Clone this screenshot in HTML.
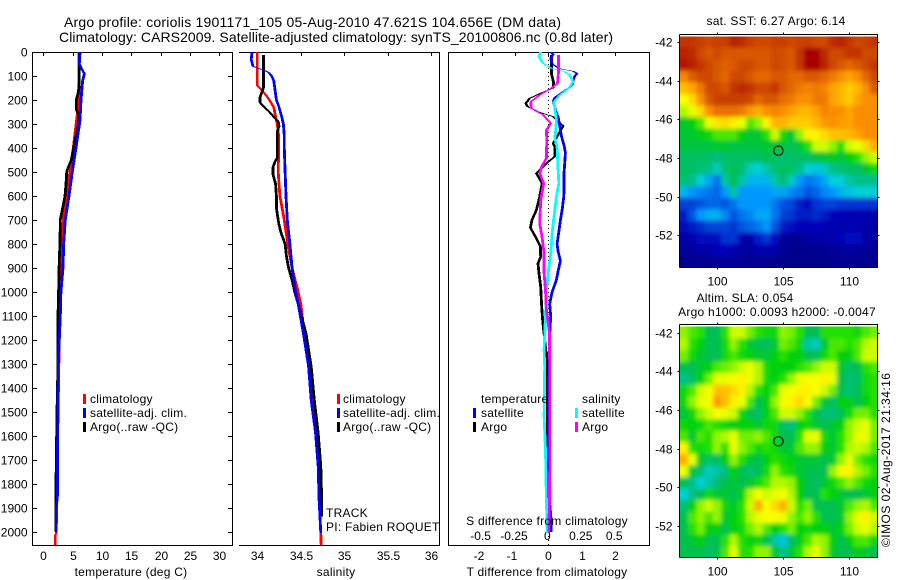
<!DOCTYPE html>
<html>
<head>
<meta charset="utf-8">
<title>Argo profile</title>
<style>
html,body{margin:0;padding:0;background:#fff;}
svg{display:block;}
text{font-family:"Liberation Sans",sans-serif;font-size:12px;fill:#000;letter-spacing:.25px;}
text.tick,text.exact{letter-spacing:0;}
</style>
</head>
<body>
<svg id="chart" width="900" height="580" viewBox="0 0 900 580" xmlns="http://www.w3.org/2000/svg">
<defs>
<clipPath id="clip-sst"><rect x="679.5" y="36.5" width="198" height="230.5"/></clipPath>
<clipPath id="clip-sla"><rect x="679.5" y="326.5" width="198" height="230.5"/></clipPath>
<filter id="soft" x="-5%" y="-5%" width="110%" height="110%"><feGaussianBlur stdDeviation="2.2"/></filter>
</defs>
<g id="maps"></g>
<g id="frames"></g>
<g id="series"></g>

<text class="exact" x="64" y="27" style="font-size:14px" textLength="497">Argo profile: coriolis 1901171_105 05-Aug-2010 47.621S 104.656E (DM data)</text>
<text class="exact" x="59" y="42" style="font-size:14px" textLength="554">Climatology: CARS2009. Satellite-adjusted climatology: synTS_20100806.nc (0.8d later)</text>

<text x="131" y="576" text-anchor="middle">temperature (deg C)</text>
<text x="336" y="576" text-anchor="middle">salinity</text>
<text x="547" y="576" text-anchor="middle">T difference from climatology</text>
<text x="547" y="525" text-anchor="middle">S difference from climatology</text>

<g>
<rect x="83" y="394" width="3" height="10" fill="#f00"/>
<rect x="83" y="408" width="3" height="10" fill="#00f"/>
<rect x="83" y="422" width="3" height="10" fill="#000"/>
<text x="90" y="403">climatology</text>
<text x="90" y="417">satellite-adj. clim.</text>
<text x="90" y="431">Argo(..raw -QC)</text>
</g>
<g>
<rect x="337" y="394" width="3" height="10" fill="#f00"/>
<rect x="337" y="408" width="3" height="10" fill="#00f"/>
<rect x="337" y="422" width="3" height="10" fill="#000"/>
<text x="343" y="403">climatology</text>
<text x="343" y="417">satellite-adj. clim.</text>
<text x="343" y="431">Argo(..raw -QC)</text>
</g>
<g>
<text x="481" y="403">temperature</text>
<rect x="473" y="408" width="3" height="10" fill="#00f"/>
<rect x="473" y="422" width="3" height="10" fill="#000"/>
<text x="481" y="417">satellite</text>
<text x="481" y="431">Argo</text>
<text x="582" y="403">salinity</text>
<rect x="575" y="408" width="3" height="10" fill="#0ff"/>
<rect x="575" y="422" width="3" height="10" fill="#f0f"/>
<text x="582" y="417">satellite</text>
<text x="582" y="431">Argo</text>
</g>

<text x="326" y="517">TRACK</text>
<text x="326" y="531">PI: Fabien ROQUET</text>

<text x="776" y="25" text-anchor="middle">sat. SST: 6.27 Argo: 6.14</text>
<text x="745" y="302" text-anchor="middle">Altim. SLA: 0.054</text>
<text x="777" y="316" text-anchor="middle">Argo h1000: 0.0093 h2000: -0.0047</text>
<text class="exact" transform="translate(890,547) rotate(-90)" textLength="174">©IMOS 02-Aug-2017 21:34:16</text>
</svg>

<script>
// ---- depth axis ----
const depthTicks = [0,100,200,300,400,500,600,700,800,900,1000,1100,1200,1300,1400,1500,1600,1700,1800,1900,2000];

// ---- temperature panel ----
const tempTicks = [0,5,10,15,20,25,30];
const climTempDepth = [0,100,200,283,400,500,600,700,800,900,1000,1100,1500,2010,2011,2054];
const climTemp = [6.08,6.08,6.08,5.68,5.11,4.55,3.92,3.41,3.18,3.13,2.95,2.8,2.5,2.2,2.05,2.05];
const satTempDepth = [0,50,70,90,120,200,285,400,500,600,700,800,900,1000,1100,1200,1300,1500,1700,1850,1900,2000];
const satTemp = [6.25,6.14,6.53,7.0,6.7,6.42,6.25,5.57,4.94,4.37,3.75,3.47,3.35,3.0,2.9,2.73,2.56,2.5,2.4,2.4,2.2,2.2];
const argoTempDepth = [0,100,150,180,200,240,260,300,350,400,450,480,500,550,600,650,700,800,860,1000,1100,1300,1500,1800,2000];
const argoTemp = [6.14,6.14,6.08,5.85,5.6,5.6,6.02,6.02,5.57,5.17,4.77,4.26,3.98,3.86,3.7,3.3,2.9,2.84,2.73,2.6,2.5,2.5,2.33,2.16,2.15];

// ---- salinity panel ----
const salTicks = [34,34.5,35,35.5,36];
const climSalDepth = [0,50,100,140,155,180,200,230,270,300,350,400,500,600,700,800,900,1000,1050,1172,1311,1450,1589,1727,1866,2005,2054];
const climSal = [34,34,34,34,34.04,34.1,34.14,34.19,34.21,34.23,34.245,34.245,34.24,34.26,34.31,34.35,34.4,34.47,34.5,34.54,34.6,34.63,34.67,34.7,34.71,34.73,34.735];
const satSalDepth = [0,30,60,75,85,100,120,200,230,270,300,350,400,500,600,700,800,900,1000,1050,1172,1311,1450,1589,1727,1866,2005];
const satSal = [33.94,33.93,33.95,34.07,34.13,34.165,34.19,34.22,34.25,34.28,34.3,34.31,34.31,34.32,34.33,34.345,34.375,34.4,34.44,34.47,34.53,34.59,34.62,34.67,34.7,34.71,34.73];
const argoSalDepth = [12,100,150,170,190,210,230,250,275,290,310,330,370,420,440,460,480,510,550,600,650,700,720,750,800,850,900,950,1000,1050,1172,1311,1450,1589,1727,1866,1936];
const argoSal = [34.07,34.07,34.07,34.05,34.03,34.03,34.08,34.14,34.2,34.24,34.25,34.23,34.23,34.23,34.23,34.2,34.18,34.18,34.21,34.22,34.22,34.24,34.25,34.27,34.32,34.335,34.36,34.4,34.43,34.47,34.56,34.62,34.655,34.7,34.73,34.74,34.74];

// ---- difference panel ----
const tDiffTicks = [-2,-1,0,1,2];
const sDiffTicks = [-0.5,-0.25,0,0.25,0.5];
const sDiffTickLabels = ['-0.5','-0.25','0','0.25','0.5'];
const satTDiffDepth = [0,10,25,50,70,80,90,100,120,135,150,170,190,205,240,270,310,350,390,420,500,550,600,650,700,750,800,830,870,900,950,1000,1050,1100,1200,1400,1700,1850,1950,2000];
const satTDiff = [.07,.14,.07,.11,.34,.74,.86,.79,.74,.72,.61,.39,.19,.15,.21,.29,.34,.39,.47,.51,.47,.47,.46,.42,.36,.31,.26,.29,.36,.31,.24,.11,.04,.07,.03,0,0,.02,.08,.08];
const argoTDiffDepth = [12,89,130,150,170,193,214,228,249,269,308,346,381,394,436,464,506,547,603,658,700,732,769,811,853,881,922,978,1061,1120,1240,1310,2000];
const argoTDiff = [.09,.09,.16,.14,-.2,-.56,-.68,-.62,-.31,.14,.44,.29,.14,.19,.19,-.06,-.36,-.19,-.26,-.36,-.49,-.54,-.39,-.24,-.23,-.31,-.28,-.23,-.2,-.17,-.08,-.03,-.03];
const satSDiffDepth = [0,19,47,68,82,96,124,151,179,207,235,283,325,360,394,478,547,603,686,756,839,922,992,1075,1240,1311,1519,1658,1866,2005];
const satSDiff = [-.058,-.072,-.04,.022,.122,.16,.185,.152,.085,.042,.048,.06,.055,.048,.065,.072,.078,.06,.042,.028,.018,-.002,-.015,-.02,-.032,-.028,-.032,-.022,-.015,-.008];
const argoSDiffDepth = [12,89,130,151,179,207,235,262,297,325,367,443,478,506,547,617,714,769,839,922,992,1075,1172,1311,1727,1866,2005];
const argoSDiff = [.075,.075,.068,.022,-.065,-.132,-.128,-.04,.018,-.015,-.012,-.015,-.052,-.065,-.035,-.058,-.065,-.048,-.032,-.032,-.022,-.015,.008,.01,.01,.008,.002];

// ---- maps ----
const lonTicks = [100,105,110];
const latTicks = [-42,-44,-46,-48,-50,-52];
const argoLon = 104.656;
const argoLat = -47.621;
const sstGrid = [
[95,95,94,93,94,94,97,96,94,93,93,94,94,93,94,94,93,93,96,97,95,93,94,95],
[97,96,93,91,93,91,91,91,91,91,91,93,92,91,95,100,100,96,93,93,95,95,93,93],
[98,97,95,93,91,90,91,93,93,91,91,93,92,91,95,100,100,97,93,91,89,91,93,95],
[86,90,93,93,91,89,93,93,91,89,89,91,91,89,89,91,91,89,87,85,83,85,89,93],
[80,83,87,93,93,91,95,96,95,93,93,95,91,89,87,86,87,86,83,81,79,81,85,91],
[74,78,85,91,94,94,94,94,93,89,91,91,88,87,85,85,87,87,83,81,79,83,85,85],
[68,72,78,85,88,88,88,87,84,82,85,86,85,83,81,81,83,86,85,85,83,85,85,85],
[54,56,62,72,77,78,76,72,62,66,76,81,81,79,79,79,81,84,85,84,83,85,85,85],
[54,54,56,58,62,62,62,56,54,54,60,70,58,54,66,76,76,78,80,80,81,83,85,85],
[53,53,53,53,54,54,53,53,53,53,54,54,54,51,54,60,70,70,66,60,70,72,78,82],
[50,50,50,50,47,50,50,50,50,50,52,50,48,50,50,50,53,53,55,53,56,60,66,70],
[50,50,48,46,42,48,52,48,42,40,44,48,50,50,46,40,38,42,46,48,50,50,54,58],
[48,46,40,34,28,44,52,44,36,36,36,44,48,42,32,28,30,34,40,40,44,46,46,46],
[36,32,30,28,26,32,44,32,32,32,32,34,34,30,28,24,26,30,32,36,38,40,40,40],
[22,22,24,26,26,24,28,32,32,32,32,28,24,22,16,14,20,22,22,20,20,20,20,20],
[16,24,32,35,35,30,24,28,30,34,34,28,22,20,16,16,18,16,12,12,10,10,10,10],
[14,16,18,22,22,22,20,24,26,28,32,24,16,14,12,12,12,12,10,8,10,10,8,8],
[8,10,14,14,14,20,20,10,8,16,20,14,6,4,4,6,8,8,10,12,14,14,8,6],
[4,6,8,8,12,12,10,6,4,10,10,8,4,2,2,2,2,2,4,6,6,6,4,4],
[2,2,2,2,4,4,4,2,2,2,2,2,2,0,0,0,0,0,2,2,2,2,2,2]
];
const slaGrid = [
[66,62,60,52,52,60,70,70,64,60,58,58,66,64,60,52,52,60,60,60,60,58,62,64],
[68,60,56,52,52,58,66,60,54,52,50,54,64,62,58,44,42,54,62,62,60,62,68,70],
[64,58,54,52,52,58,62,58,56,54,54,56,60,56,56,52,52,58,62,56,56,62,70,70],
[52,52,54,56,62,64,66,70,72,68,58,56,56,56,60,62,66,70,70,54,50,52,60,62],
[46,50,56,64,72,72,74,76,72,68,58,56,60,66,72,74,74,76,72,52,48,50,58,60],
[58,62,70,74,80,80,78,76,68,60,56,62,72,74,76,76,74,70,64,52,48,52,58,60],
[58,66,72,74,84,80,76,72,62,52,56,66,74,76,78,74,64,54,50,56,56,52,56,60],
[54,58,66,70,74,72,70,58,52,50,56,62,70,70,66,60,52,48,48,52,58,64,64,60],
[58,56,58,62,60,58,56,56,56,54,58,58,50,48,56,58,54,52,54,56,66,70,72,64],
[62,54,62,60,66,68,72,64,64,66,62,58,52,52,60,72,72,58,54,60,66,72,72,64],
[76,60,58,60,66,60,72,66,62,58,60,58,54,54,62,66,66,56,54,60,68,70,68,62],
[82,72,54,50,50,56,66,60,54,52,56,60,58,56,54,54,54,52,54,66,72,64,60,58],
[72,54,48,42,44,48,56,52,48,52,58,66,60,58,54,52,52,52,66,74,76,68,64,60],
[52,46,40,44,48,52,54,52,54,58,62,68,68,66,56,52,50,54,58,62,66,62,58,56],
[40,46,52,58,54,54,52,56,68,74,70,72,74,68,56,52,52,60,56,54,52,52,54,56],
[48,56,66,70,66,58,54,60,70,82,74,78,82,70,60,64,52,52,52,54,62,66,68,62],
[52,62,66,62,66,54,56,60,68,72,74,74,72,66,62,66,60,52,52,54,66,72,76,70],
[52,60,64,56,56,52,56,58,64,68,62,56,60,64,56,58,56,56,54,56,64,70,72,68],
[52,54,56,52,52,60,68,60,56,58,52,44,38,50,56,62,68,66,56,52,56,62,62,58],
[52,52,52,50,52,62,72,60,60,66,66,54,46,54,60,68,72,66,54,52,52,56,54,52]
];
const colorStopLevels = [0,12,22,32,40,46,52,56,60,64,68,72,75,80,84,88,94,100];
const colorStopHexes = ['#000088','#0000b8','#0044d8','#0098ff','#00d0d8','#00c088','#00c050','#00d010','#20e000','#70f000','#b0f800','#e8ff00','#ffff00','#ffc000','#ff9900','#e87000','#c84000','#a80000'];

const NS = 'http://www.w3.org/2000/svg';
const framesG = document.getElementById('frames');
const seriesG = document.getElementById('series');
const mapsG = document.getElementById('maps');

// axis functions
const yDepth = d => 52 + d * 0.24;
const xTemp = t => 43.3 + t * 5.87;
const xSal = s => 257.3 + (s - 34) * 87;
const xTDiff = t => 548.4 + t * 33.4;
const xSDiff = s => 548.4 + s * 4 * 33.4;
const xLon = lon => 717.3 + (lon - 100) * 13.13;
const yLatSst = lat => 42 + (-42 - lat) * 19.33;
const yLatSla = lat => 332.7 + (-42 - lat) * 19.33;

function svgEl(tag, parent, attrs) {
  const el = document.createElementNS(NS, tag);
  for (const k in attrs) el.setAttribute(k, attrs[k]);
  parent.appendChild(el);
  return el;
}
function hLine(parent, name, x1, x2, y) {
  const el = svgEl('line', parent, {x1: x1, x2: x2, y1: y, y2: y, stroke: '#000', 'stroke-width': 1, 'shape-rendering': 'crispEdges'});
  
  
}
function vLine(parent, name, x, y1, y2) {
  const el = svgEl('line', parent, {x1: x, x2: x, y1: y1, y2: y2, stroke: '#000', 'stroke-width': 1, 'shape-rendering': 'crispEdges'});
  
  
}
function label(parent, name, str, x, y, anchor) {
  const el = svgEl('text', parent, {x: x, y: y, 'text-anchor': anchor, 'class': 'tick'});
  el.textContent = str;
  
  
}
// Reference lines are thick only horizontally: draw each as a band 3px wide in x.
function profile(name, depths, values, xFn, color) {
  const left = depths.map((d, i) => (xFn(values[i]) - 1.4).toFixed(1) + ',' + yDepth(d).toFixed(1));
  const right = depths.map((d, i) => (xFn(values[i]) + 1.4).toFixed(1) + ',' + yDepth(d).toFixed(1)).reverse();
  const el = svgEl('polygon', seriesG, {points: left.concat(right).join(' '), fill: color, stroke: 'none', 'shape-rendering': 'crispEdges'});
  
  
}

// temperature frame
hLine(framesG, 'temperature-top-axis', 32, 232, 52.5);
hLine(framesG, 'temperature-bottom-axis', 32, 232, 545.5);
vLine(framesG, 'temperature-left-axis', 32.5, 52, 546);
vLine(framesG, 'temperature-right-axis', 232.5, 52, 546);
depthTicks.forEach(d => {
  const y = Math.round(yDepth(d)) + 0.5;
  hLine(framesG, 'depth-tick-left', 32, 37, y);
  hLine(framesG, 'depth-tick-right', 228, 232, y);
  label(framesG, 'depth-tick-label', String(d), 27.5, y + 4, 'end');
});
tempTicks.forEach(t => {
  const x = Math.round(xTemp(t)) + 0.5;
  vLine(framesG, 'temperature-top-tick', x, 52, 56);
  label(framesG, 'temperature-tick-label', String(t), x, 560, 'middle');
});

// salinity frame (no left line in the reference)
hLine(framesG, 'salinity-top-axis', 239, 440, 52.5);
hLine(framesG, 'salinity-bottom-axis', 239, 440, 545.5);
vLine(framesG, 'salinity-right-axis', 439.5, 52, 546);
salTicks.forEach(s => {
  const x = Math.round(xSal(s)) + 0.5;
  vLine(framesG, 'salinity-top-tick', x, 52, 56);
  label(framesG, 'salinity-tick-label', String(s), x, 560, 'middle');
});

// difference frame
hLine(framesG, 'difference-top-axis', 448, 650, 52.5);
hLine(framesG, 'difference-bottom-axis', 448, 650, 545.5);
vLine(framesG, 'difference-left-axis', 448.5, 52, 546);
vLine(framesG, 'difference-right-axis', 649.5, 52, 546);
tDiffTicks.forEach(t => {
  const x = Math.round(xTDiff(t)) + 0.5;
  vLine(framesG, 'difference-top-tick', x, 52, 56);
  label(framesG, 't-difference-tick-label', String(t), t < 0 ? x - 3.5 : x, 560, 'middle');
});
sDiffTicks.forEach((s, i) => {
  label(framesG, 's-difference-tick-label', sDiffTickLabels[i], xSDiff(s) - 1, 540, 'middle');
});

// series
profile('temperature-climatology-line', climTempDepth, climTemp, xTemp, '#f00');
profile('temperature-argo-line', argoTempDepth, argoTemp, xTemp, '#000');
profile('temperature-satellite-line', satTempDepth, satTemp, xTemp, '#00f');
profile('salinity-climatology-line', climSalDepth, climSal, xSal, '#f00');
profile('salinity-argo-line', argoSalDepth, argoSal, xSal, '#000');
profile('salinity-satellite-line', satSalDepth, satSal, xSal, '#00f');

const zeroLine = svgEl('line', seriesG, {x1: 548.5, x2: 548.5, y1: 52, y2: 545, stroke: '#000', 'stroke-width': 1, 'stroke-dasharray': '1 3', 'shape-rendering': 'crispEdges'});



profile('t-difference-argo-line', argoTDiffDepth, argoTDiff, xTDiff, '#000');
profile('t-difference-satellite-line', satTDiffDepth, satTDiff, xTDiff, '#00f');
profile('s-difference-satellite-line', satSDiffDepth, satSDiff, xSDiff, '#0ff');
profile('s-difference-argo-line', argoSDiffDepth, argoSDiff, xSDiff, '#f0f');

// map colour scale
function colorFor(v) {
  let i = 0;
  while (i < colorStopLevels.length - 2 && v > colorStopLevels[i + 1]) i++;
  const f = Math.min(1, Math.max(0, (v - colorStopLevels[i]) / (colorStopLevels[i + 1] - colorStopLevels[i])));
  const a = colorStopHexes[i], b = colorStopHexes[i + 1];
  const ch = p => Math.round(parseInt(a.substr(p, 2), 16) * (1 - f) + parseInt(b.substr(p, 2), 16) * f);
  return 'rgb(' + ch(1) + ',' + ch(3) + ',' + ch(5) + ')';
}

function drawMap(prefix, grid, yLat, clipId, top, bottom) {
  const lonMin = 97.15, lonMax = 112.25;
  const latMax = -41.7, latMin = -53.64;
  const nR = grid.length, nC = grid[0].length;
  const outer = svgEl('g', mapsG, {'clip-path': 'url(#' + clipId + ')'});
  
  
  const inner = svgEl('g', outer, {filter: 'url(#soft)'});
  grid.forEach((row, r) => row.forEach((v, c) => {
    const lon0 = lonMin + (lonMax - lonMin) * c / nC;
    const lon1 = lonMin + (lonMax - lonMin) * (c + 1) / nC;
    const lat0 = latMax - (latMax - latMin) * r / nR;
    const lat1 = latMax - (latMax - latMin) * (r + 1) / nR;
    let x0 = xLon(lon0), x1 = xLon(lon1), y0 = yLat(lat0), y1 = yLat(lat1);
    if (c === 0) x0 -= 12;
    if (c === nC - 1) x1 += 12;
    if (r === 0) y0 -= 12;
    if (r === nR - 1) y1 += 12;
    const cell = svgEl('rect', inner, {x: x0.toFixed(1), y: y0.toFixed(1), width: (x1 - x0 + 0.6).toFixed(1), height: (y1 - y0 + 0.6).toFixed(1), fill: colorFor(v)});
    
    
  }));
  const L = 679.5, R = 877.5;
  hLine(framesG, prefix + '-map-top-axis', L, R + 0.5, top);
  hLine(framesG, prefix + '-map-bottom-axis', L, R + 0.5, bottom);
  vLine(framesG, prefix + '-map-left-axis', L, top, bottom);
  vLine(framesG, prefix + '-map-right-axis', R, top, bottom);
  lonTicks.forEach(lon => {
    const x = Math.round(xLon(lon)) + 0.5;
    vLine(framesG, prefix + '-map-lon-tick', x, top - 2, top);
    vLine(framesG, prefix + '-map-lon-tick', x, bottom, bottom + 2);
    label(framesG, prefix + '-map-lon-label', String(lon), x, bottom + 18, 'middle');
  });
  latTicks.forEach(lat => {
    const y = Math.round(yLat(lat)) + 0.5;
    hLine(framesG, prefix + '-map-lat-tick', L - 2, L, y);
    hLine(framesG, prefix + '-map-lat-tick', R, R + 2, y);
    label(framesG, prefix + '-map-lat-label', String(lat), 672.5, y + 4, 'end');
  });
  const marker = svgEl('circle', framesG, {cx: xLon(argoLon), cy: yLat(argoLat), r: 4.7, fill: 'none', stroke: '#000', 'stroke-width': 1});
  
  
}
drawMap('sst', sstGrid, yLatSst, 'clip-sst', 34.5, 267.5);
drawMap('sla', slaGrid, yLatSla, 'clip-sla', 324.5, 557.5);
</script>
</body>
</html>
